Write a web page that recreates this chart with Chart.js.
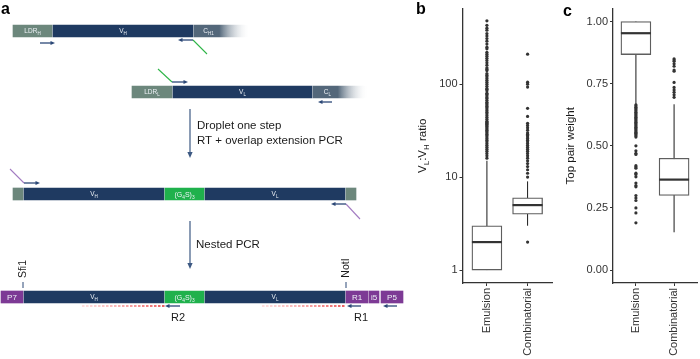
<!DOCTYPE html>
<html>
<head>
<meta charset="utf-8">
<script src="https://cdn.jsdelivr.net/npm/chart.js@4.4.1/dist/chart.umd.min.js"></script>
<style>
html, body { margin: 0; padding: 0; background: #fff; overflow: hidden; width: 700px; height: 359px; }
canvas { position: absolute; top: 0; }
#chartA { left: 0; }
#chartB { left: 400px; }
#chartC { left: 560px; }
</style>
</head>
<body>
<canvas id="chartA" width="410" height="359"></canvas>
<canvas id="chartB" width="160" height="359"></canvas>
<canvas id="chartC" width="141" height="359"></canvas>
<script>
// ---- panel a: construct segments (start/end along the construct, row level) ----
const segLabels = ['LDR{H}', 'V{H}', 'C{H1}', 'LDR{L}', 'V{L}', 'C{L}', '', 'V{H}', '(G{4}S){3}', 'V{L}', '', 'P7', 'V{H}', '(G{4}S){3}', 'V{L}', 'R1', 'i5', 'P5'];
const segStart = [13, 53, 194, 132, 173, 313, 13, 24, 165, 205, 346, 1, 24, 165, 205, 346, 369, 381];
const segEnd = [52, 193, 250, 172, 312, 368, 23, 164, 204, 345, 356, 23, 164, 204, 345, 368, 379, 403];
const segRow = [31, 31, 31, 92, 92, 92, 194, 194, 194, 194, 194, 297, 297, 297, 297, 297, 297, 297];
const segKind = ['ldr', 'v', 'c', 'ldr', 'v', 'c', 'ldr', 'v', 'linker', 'v', 'ldr', 'adapter', 'v', 'linker', 'v', 'adapter', 'adapter', 'adapter'];

// ---- panel b: VL:VH ratio ----
const groups = ['Emulsion', 'Combinatorial'];
const ratioQ1 = [1, 4];
const ratioMedian = [2, 5];
const ratioQ3 = [3, 6];
const ratioLow = [1, 3];
const ratioHigh = [15, 9];
const ratioOutEmulsion = [16, 17, 18, 19, 20, 21, 22, 23, 24, 25, 26, 27, 28, 29, 30, 31, 32, 33, 34, 35, 36, 37, 38, 39, 40, 42, 44, 46, 48, 50, 52, 54, 56, 58, 60, 62, 64, 67, 70, 72, 75, 78, 80, 85, 88, 90, 95, 100, 105, 110, 115, 120, 125, 130, 140, 145, 150, 160, 170, 180, 190, 200, 210, 220, 240, 250, 270, 290, 310, 330, 350, 380, 400, 430, 480];
const ratioOutCombinatorial = [2, 10, 11, 12, 13, 14, 15, 16, 17, 18, 19, 20, 21, 22, 23, 24, 25, 26, 27, 28, 29, 30, 32, 34, 36, 38, 45, 55, 93, 100, 105, 210];
const ratioTicks = [1, 10, 100];

// ---- panel c: top pair weight ----
const weightQ1 = [0.867, 0.30];
const weightMedian = [0.953, 0.364];
const weightQ3 = [1.0, 0.45];
const weightLow = [0.667, 0.152];
const weightHigh = [1.0, 0.667];
const weightOutEmulsion = [0.665, 0.66, 0.655, 0.65, 0.645, 0.64, 0.635, 0.63, 0.625, 0.62, 0.615, 0.61, 0.605, 0.6, 0.595, 0.59, 0.585, 0.58, 0.575, 0.57, 0.565, 0.56, 0.555, 0.55, 0.545, 0.54, 0.535, 0.5, 0.48, 0.47, 0.465, 0.42, 0.415, 0.41, 0.39, 0.385, 0.375, 0.35, 0.34, 0.335, 0.3, 0.29, 0.28, 0.25, 0.23, 0.19];
const weightOutCombinatorial = [0.85, 0.845, 0.84, 0.83, 0.82, 0.805, 0.8, 0.755, 0.735, 0.725, 0.715, 0.705, 0.695];
const weightTicks = [0, 0.25, 0.5, 0.75, 1];

// ---- panel a annotation layout (scheme units) ----
const primerArrows = [[40, 43, 55, 43], [193, 40, 178, 40], [172, 82, 188, 82], [332, 102, 318, 102], [24, 183, 40, 183], [346, 204, 331, 204], [180, 306, 165, 306], [361, 306, 347, 306], [397, 306, 383, 306]];
const primerTails = [[193, 40, 207, 54, 'green'], [158, 69, 172, 82, 'green'], [10, 169, 24, 183, 'purple'], [346, 204, 360, 219, 'purple']];
const readDashes = [[82, 165, 306], [262, 345, 306]];
const readLabels = [['R2', 178, 318], ['R1', 361, 318]];
const stepArrows = [[190, 109, 158], [190, 221, 269]];
const stepText = [['Droplet one step', 197, 126], ['RT + overlap extension PCR', 197, 141], ['Nested PCR', 196, 245]];
const siteLabels = [['Sfi1', 23, 269], ['NotI', 346, 268]];

const font = "'Liberation Sans', Arial, Helvetica, sans-serif";
const colorOf = { ldr: '#6c877c', v: '#1f3a61', c: '#53677a', linker: '#1fb14c', adapter: '#7d3a95' };
const tailColor = { green: '#2fb548', purple: '#a37cc2' };
const arrowColor = '#2c4877';

const richParts = (str) => {
    const parts = [];
    const re = /([^{]+)|\{([^}]*)\}/g;
    let m;
    while ((m = re.exec(str))) parts.push(m[1] !== undefined ? [m[1], false] : [m[2], true]);
    return parts;
};

// text with subscripts, centred on x, baseline y
const drawRich = (ctx, str, x, y, size, subSize, drop, weight = '') => {
    const parts = richParts(str);
    let w = 0;
    parts.forEach(([t, sub]) => {
        ctx.font = `${weight}${sub ? subSize : size}px ${font}`;
        w += ctx.measureText(t).width;
    });
    let cx = x - w / 2;
    ctx.textAlign = 'left';
    ctx.textBaseline = 'alphabetic';
    parts.forEach(([t, sub]) => {
        ctx.font = `${weight}${sub ? subSize : size}px ${font}`;
        ctx.fillText(t, cx, sub ? y + drop : y);
        cx += ctx.measureText(t).width;
    });
};

const drawArrow = (ctx, x0, y0, x1, y1, color, width, headLen, headHalf) => {
    const ang = Math.atan2(y1 - y0, x1 - x0);
    ctx.strokeStyle = color;
    ctx.fillStyle = color;
    ctx.lineWidth = width;
    ctx.beginPath();
    ctx.moveTo(x0, y0);
    ctx.lineTo(x1 - Math.cos(ang) * headLen * 0.8, y1 - Math.sin(ang) * headLen * 0.8);
    ctx.stroke();
    ctx.beginPath();
    ctx.moveTo(x1, y1);
    ctx.lineTo(x1 - Math.cos(ang) * headLen - Math.sin(ang) * headHalf, y1 - Math.sin(ang) * headLen + Math.cos(ang) * headHalf);
    ctx.lineTo(x1 - Math.cos(ang) * headLen + Math.sin(ang) * headHalf, y1 - Math.sin(ang) * headLen - Math.cos(ang) * headHalf);
    ctx.closePath();
    ctx.fill();
};

const segFill = (c) => {
    const i = c.dataIndex;
    if (i === undefined) return colorOf.v;
    const col = colorOf[segKind[i]];
    if (segKind[i] !== 'c' || !c.chart.scales.x) return col;
    const xs = c.chart.scales.x;
    const x0 = xs.getPixelForValue(segStart[i]);
    const x1 = xs.getPixelForValue(segEnd[i]);
    const g = c.chart.ctx.createLinearGradient(x0, 0, x1, 0);
    g.addColorStop(0, col);
    g.addColorStop(0.45, col);
    g.addColorStop(1, 'rgba(255,255,255,0)');
    return g;
};

const schemePlugin = {
    id: 'scheme',
    afterDatasetsDraw(chart) {
        const { ctx } = chart;
        const xs = chart.scales.x;
        const ys = chart.scales.y;
        const px = (v) => xs.getPixelForValue(v);
        const py = (v) => ys.getPixelForValue(v);
        ctx.save();

        // labels inside the segments
        ctx.fillStyle = '#eef2f7';
        segLabels.forEach((lab, i) => {
            if (!lab) return;
            const s = segStart[i], e = segEnd[i];
            const mid = segKind[i] === 'c' ? s + (e - s) * 0.26 : (s + e) / 2;
            if (segKind[i] === 'adapter') drawRich(ctx, lab, px(mid), py(segRow[i]) + 2.9, 8, 6, 2);
            else if (segKind[i] === 'linker') drawRich(ctx, lab, px(mid), py(segRow[i]) + 2.5, 7, 4.8, 2);
            else drawRich(ctx, lab, px(mid), py(segRow[i]) + 2.3, 6.5, 4.5, 2);
        });

        // primer tails
        ctx.lineWidth = 1.1;
        primerTails.forEach(([x0, y0, x1, y1, c]) => {
            ctx.strokeStyle = tailColor[c];
            ctx.beginPath();
            ctx.moveTo(px(x0), py(y0));
            ctx.lineTo(px(x1), py(y1));
            ctx.stroke();
        });

        // dashed read regions
        readDashes.forEach(([x0, x1, y]) => {
            const g = ctx.createLinearGradient(px(x0), 0, px(x1), 0);
            g.addColorStop(0, 'rgba(255,185,185,0.6)');
            g.addColorStop(1, '#e62a2d');
            ctx.strokeStyle = g;
            ctx.lineWidth = 1.3;
            ctx.setLineDash([2.5, 1.5]);
            ctx.beginPath();
            ctx.moveTo(px(x0), py(y));
            ctx.lineTo(px(x1), py(y));
            ctx.stroke();
        });
        ctx.setLineDash([]);

        // primer arrows
        primerArrows.forEach(([x0, y0, x1, y1]) => drawArrow(ctx, px(x0), py(y0), px(x1), py(y1), arrowColor, 1.3, 4.5, 2));

        // step arrows
        stepArrows.forEach(([x, y0, y1]) => drawArrow(ctx, px(x), py(y0), px(x), py(y1), '#3d5983', 1.2, 6, 2.6));

        ctx.fillStyle = '#1a1a1a';
        ctx.font = `11.5px ${font}`;
        ctx.textAlign = 'left';
        ctx.textBaseline = 'middle';
        stepText.forEach(([t, x, y]) => ctx.fillText(t, px(x), py(y)));

        ctx.font = `11px ${font}`;
        ctx.textAlign = 'center';
        readLabels.forEach(([t, x, y]) => ctx.fillText(t, px(x), py(y)));

        // restriction sites
        siteLabels.forEach(([t, x, y]) => {
            ctx.strokeStyle = arrowColor;
            ctx.lineWidth = 1;
            ctx.beginPath();
            ctx.moveTo(px(x), py(282));
            ctx.lineTo(px(x), py(288));
            ctx.stroke();
            ctx.save();
            ctx.translate(px(x), py(y));
            ctx.rotate(-Math.PI / 2);
            ctx.fillStyle = '#1a1a1a';
            ctx.font = `10.5px ${font}`;
            ctx.textAlign = 'center';
            ctx.textBaseline = 'middle';
            ctx.fillText(t, 0, 0);
            ctx.restore();
        });

        // panel letter
        ctx.fillStyle = '#000';
        ctx.font = `bold 16px ${font}`;
        ctx.textAlign = 'left';
        ctx.textBaseline = 'alphabetic';
        ctx.fillText('a', 1, 14);
        ctx.restore();
    }
};

new Chart(document.getElementById('chartA'), {
    type: 'bar',
    data: {
        datasets: [{
            data: segStart.map((s, i) => ({ x: [s, segEnd[i]], y: segRow[i] })),
            backgroundColor: segFill,
            borderWidth: 0,
            borderSkipped: false,
            barThickness: 12
        }]
    },
    options: {
        indexAxis: 'y',
        responsive: false,
        animation: false,
        events: [],
        layout: { padding: 0 },
        scales: {
            x: { type: 'linear', min: 0, max: 410, display: false },
            y: { type: 'linear', min: 0, max: 359, reverse: true, display: false, offset: false, grid: { offset: false } }
        },
        plugins: { legend: { display: false }, tooltip: { enabled: false } }
    },
    plugins: [schemePlugin]
});

// ---- box plots (b, c) ----
const makeBoxPlugin = (spec) => ({
    id: 'boxParts',
    beforeDatasetsDraw(chart) {
        const { ctx, scales: { x, y } } = chart;
        ctx.save();
        ctx.strokeStyle = '#1a1a1a';
        ctx.lineWidth = 1;
        spec.low.forEach((lo, i) => {
            const px = x.getPixelForValue(i + 1);
            ctx.beginPath();
            ctx.moveTo(px, y.getPixelForValue(lo));
            ctx.lineTo(px, y.getPixelForValue(spec.high[i]));
            ctx.stroke();
        });
        ctx.restore();
    },
    afterDatasetDraw(chart, args) {
        if (args.meta.type !== 'bar') return;
        const { ctx, scales: { x, y } } = chart;
        ctx.save();
        ctx.strokeStyle = '#333';
        ctx.lineWidth = 2.2;
        spec.median.forEach((m, i) => {
            const px = x.getPixelForValue(i + 1);
            const pm = y.getPixelForValue(m);
            ctx.beginPath();
            ctx.moveTo(px - 15, pm);
            ctx.lineTo(px + 15, pm);
            ctx.stroke();
        });
        ctx.restore();
    },
    afterDraw(chart) {
        const { ctx, chartArea } = chart;
        ctx.save();
        ctx.fillStyle = '#1a1a1a';
        ctx.translate(spec.titleX, (chartArea.top + chartArea.bottom) / 2);
        ctx.rotate(-Math.PI / 2);
        drawRich(ctx, spec.title, 0, 4, 11.5, 8, 3);
        ctx.restore();
        ctx.save();
        ctx.fillStyle = '#000';
        ctx.font = `bold 16px ${font}`;
        ctx.fillText(spec.letter, spec.letterX, spec.letterY);
        ctx.restore();
    }
});

const axisGrid = { drawOnChartArea: false, drawTicks: true, tickLength: 3, color: '#333', tickColor: '#333', tickWidth: 1, offset: false };
const axisBorder = { display: true, color: '#333', width: 1.3 };
const tickFont = { size: 11, family: font };

const boxChart = (id, spec) => new Chart(document.getElementById(id), {
    type: 'bar',
    data: {
        datasets: [
            {
                type: 'scatter',
                order: 0,
                data: spec.outA.map(v => ({ x: 1, y: v })).concat(spec.outB.map(v => ({ x: 2, y: v }))),
                pointRadius: 1.6,
                pointBackgroundColor: '#333',
                pointBorderWidth: 0
            },
            {
                type: 'bar',
                order: 1,
                data: spec.q1.map((q, i) => ({ x: i + 1, y: [q, spec.q3[i]] })),
                backgroundColor: '#fff',
                borderColor: '#5e5e5e',
                borderWidth: 1.3,
                borderSkipped: false,
                barThickness: 30
            }
        ]
    },
    options: {
        responsive: false,
        animation: false,
        events: [],
        layout: { padding: { left: 0, right: spec.padRight, top: 7, bottom: 0 } },
        scales: {
            x: {
                type: 'linear', min: 0.4, max: 2.6, bounds: 'data', offset: false,
                afterBuildTicks: s => { s.ticks = groups.map((g, i) => ({ value: i + 1 })); },
                afterFit: s => { s.height = 76; },
                ticks: { callback: v => groups[v - 1], minRotation: 90, maxRotation: 90, autoSkip: false, font: tickFont, color: '#333', padding: 2 },
                grid: axisGrid,
                border: axisBorder
            },
            y: {
                type: spec.yType, min: spec.yMin, max: spec.yMax, bounds: 'data',
                afterBuildTicks: s => { s.ticks = spec.ticks.map(v => ({ value: v })); },
                afterFit: s => { s.width = spec.yWidth; },
                ticks: { callback: spec.tickFmt, font: tickFont, color: '#333', padding: 2 },
                grid: axisGrid,
                border: axisBorder
            }
        },
        plugins: { legend: { display: false }, tooltip: { enabled: false } }
    },
    plugins: [makeBoxPlugin(spec)]
});

boxChart('chartB', {
    q1: ratioQ1, median: ratioMedian, q3: ratioQ3, low: ratioLow, high: ratioHigh,
    outA: ratioOutEmulsion, outB: ratioOutCombinatorial,
    yType: 'logarithmic', yMin: 0.726, yMax: 650, ticks: ratioTicks, tickFmt: v => String(v),
    yWidth: 62.5, padRight: 8,
    title: 'V{L}:V{H} ratio', titleX: 21.7, letter: 'b', letterX: 16, letterY: 14
});

boxChart('chartC', {
    q1: weightQ1, median: weightMedian, q3: weightQ3, low: weightLow, high: weightHigh,
    outA: weightOutEmulsion, outB: weightOutCombinatorial,
    yType: 'linear', yMin: -0.052, yMax: 1.052, ticks: weightTicks, tickFmt: v => v.toFixed(2),
    yWidth: 53, padRight: 0,
    title: 'Top pair weight', titleX: 10, letter: 'c', letterX: 3, letterY: 16
});
</script>
</body>
</html>
